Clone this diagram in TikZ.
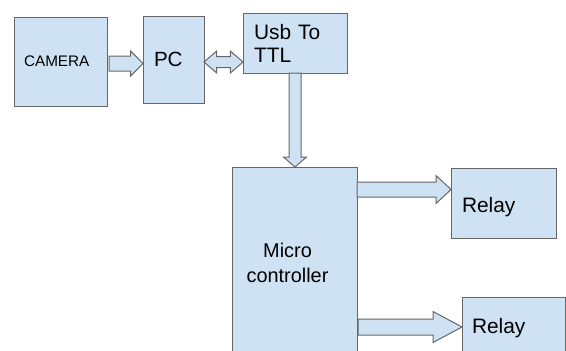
\documentclass[tikz,border=0pt]{standalone}
\usepackage{fontspec}
\setmainfont{Liberation Sans}
\usetikzlibrary{calc}
\definecolor{boxfill}{HTML}{CFE2F3}
\definecolor{boxline}{HTML}{666666}
\tikzset{
  blk/.style={draw=boxline, fill=boxfill, line width=1pt, outer sep=0pt, inner ysep=0pt, align=left},
  fat/.style={draw=boxline, fill=boxfill, line width=1pt, line join=miter}
}
% horizontal block arrow: from, to, start gap, y, shaft half, head half, head length
\newcommand\hfat[7]{%
  \draw[fat] let \p1=(#1), \p2=(#2) in
    (\x1+#3,#4+#5) -- (\x2-#7,#4+#5) -- (\x2-#7,#4+#6) -- (\x2,#4)
    -- (\x2-#7,#4-#6) -- (\x2-#7,#4-#5) -- (\x1+#3,#4-#5) -- cycle;}
\begin{document}
\begin{tikzpicture}[x=1pt,y=1pt]
\useasboundingbox (0,0) rectangle (566,-351);
\clip (0,0) rectangle (566,-351);
\node[blk, minimum width=93pt, minimum height=89pt, text width=73pt, inner xsep=10pt,
      font=\fontsize{15.3}{18}\selectfont] (cam) at (60.5,-61.5) {CAMERA};
\node[blk, minimum width=61pt, minimum height=87pt, text width=39pt, inner xsep=11pt,
      font=\fontsize{20.6}{23}\selectfont] (pc) at (173.5,-59.5) {PC};
\node[blk, minimum width=104pt, minimum height=60pt, text width=82pt, inner xsep=11pt,
      font=\fontsize{20.9}{23}\selectfont] (usb) at (295,-43) {Usb To\\TTL};
\node[blk, minimum width=125pt, minimum height=193pt] (mc) at (294.5,-263.5) {};
\node[align=center, inner sep=0pt, font=\fontsize{19.9}{25}\selectfont] (mclabel) at (287.5,-263) {Micro\\controller};
\node[blk, minimum width=105pt, minimum height=70pt, text width=83pt, inner xsep=11pt,
      font=\fontsize{20.9}{24}\selectfont] (relayA) at (503.5,-203) {\raisebox{-9.5pt}[0pt][0pt]{Relay}};
\node[blk, minimum width=103pt, minimum height=63pt, text width=83pt, inner xsep=10pt,
      font=\fontsize{20.9}{24}\selectfont] (relayB) at (513.5,-328.5) {Relay};
% camera -> pc
\hfat{cam.east}{pc.west}{2pt}{-63.5pt}{7.5pt}{12.5pt}{12.3pt}
% pc <-> usb
\draw[fat] let \p1=(pc.east), \p2=(usb.west) in
  (\x1,-62pt) -- (\x1+12.7pt,-51pt) -- (\x1+12.7pt,-56.5pt) -- (\x2-12.7pt,-56.5pt)
  -- (\x2-12.7pt,-51pt) -- (\x2,-62pt) -- (\x2-12.7pt,-73pt) -- (\x2-12.7pt,-67.5pt)
  -- (\x1+12.7pt,-67.5pt) -- (\x1+12.7pt,-73pt) -- cycle;
% usb -> mc
\draw[fat] let \p1=(usb.south), \p2=(mc.north) in
  (295pt-6pt,\y1) -- (295pt-6pt,\y2+10pt) -- (295pt-11.5pt,\y2+10pt) -- (295pt,\y2)
  -- (295pt+11.5pt,\y2+10pt) -- (295pt+6pt,\y2+10pt) -- (295pt+6pt,\y1) -- cycle;
% mc -> relays
\hfat{mc.east}{relayA.west}{0pt}{-189.5pt}{7.5pt}{14pt}{15pt}
\hfat{mc.east}{relayB.west}{1pt}{-327pt}{8pt}{15.5pt}{29pt}
\end{tikzpicture}
\end{document}
